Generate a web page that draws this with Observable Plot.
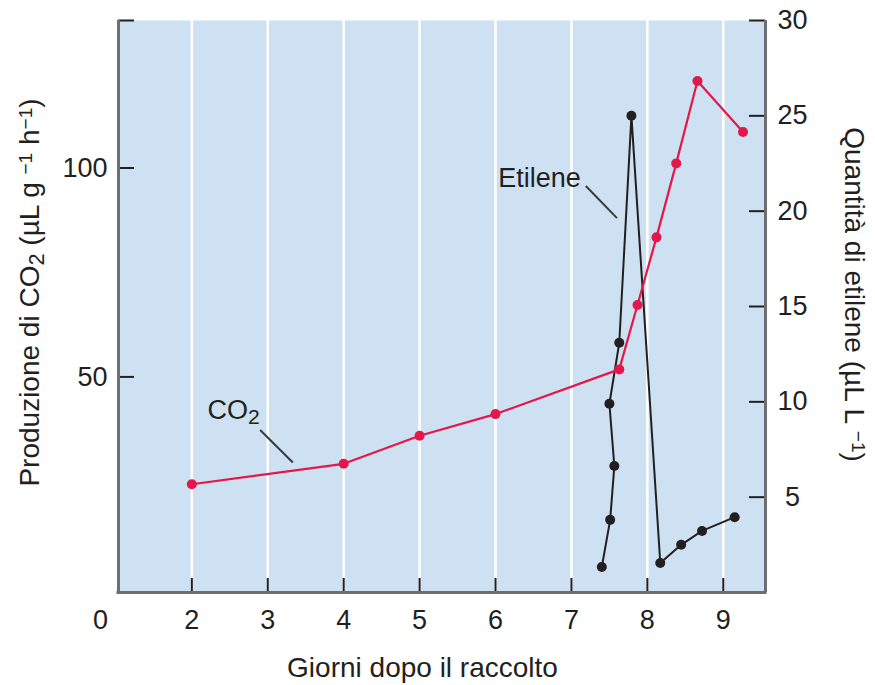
<!DOCTYPE html>
<html><head><meta charset="utf-8">
<script src="https://cdn.jsdelivr.net/npm/d3@7"></script>
<script src="https://cdn.jsdelivr.net/npm/@observablehq/plot@0.6"></script>
<style>body{margin:0;background:#fff}</style>
</head><body><div id="chart"></div>
<script>
// CO2 production (µL g-1 h-1) vs days after harvest
const co2Days = [2, 4, 5, 6, 7.63, 7.87, 8.12, 8.38, 8.66, 9.26];
const co2Values = [24.3, 29.2, 35.9, 41.1, 51.8, 67.2, 83.4, 101.1, 120.8, 108.6];
// Ethylene amount (µL L-1) vs days after harvest
const ethDays = [7.40, 7.51, 7.565, 7.50, 7.63, 7.79, 8.17, 8.445, 8.72, 9.15];
const ethValues = [1.34, 3.81, 6.63, 9.90, 13.1, 25.0, 1.55, 2.50, 3.23, 3.95];
// ticks
const xTicks = [2, 3, 4, 5, 6, 7, 8, 9];
const xBreakLabel = ["0"];
const leftTicks = [50, 100];
const rightTicks = [5, 10, 15, 20, 25, 30];
// domains
const xDomain = [1.034, 9.556];
const co2Domain = [-1.6, 135.3];
const ethDomain = [0, 30];
// texts
const xTitle = "Giorni dopo il raccolto";
const leftTitle = "Produzione di CO₂ (µL g ⁻¹ h⁻¹)";
const rightTitle = "Quantità di etilene (µL L ⁻¹)";
const annotLabels = ["CO₂", "Etilene"];
const annotX = [2.55, 6.58];
const annotY = [42.1, 97.6];
const leaderX1 = [2.90, 7.19], leaderY1 = [37.3, 95.7];
const leaderX2 = [3.33, 7.60], leaderY2 = [29.5, 88.0];

const toCo2 = e => co2Domain[0] + (e - ethDomain[0]) * (co2Domain[1] - co2Domain[0]) / (ethDomain[1] - ethDomain[0]);
const co2Data = co2Days.map((d, i) => ({day: d, v: co2Values[i]}));
const ethData = ethDays.map((d, i) => ({day: d, v: toCo2(ethValues[i])}));
const annots = annotLabels.map((t, i) => ({t, x: annotX[i], y: annotY[i]}));
const leaders = leaderX1.map((x, i) => ({x1: x, y1: leaderY1[i], x2: leaderX2[i], y2: leaderY2[i]}));

const W = 875, H = 685, mL = 118, mR = 110, mT = 20, mB = 93;
const plotW = W - mL - mR, plotH = H - mT - mB;
const ink = "#231f20", red = "#e4174b", axisGray = "#6d6e71";
const T = {fill: ink, textAnchor: "middle", lineAnchor: "middle"};

const chart = Plot.plot({
  width: W, height: H,
  marginLeft: mL, marginRight: mR, marginTop: mT, marginBottom: mB,
  style: {fontFamily: "'Liberation Sans', Arial, sans-serif", fontSize: "27px", color: ink, background: "transparent", overflow: "visible"},
  x: {domain: xDomain, axis: null},
  y: {domain: co2Domain, axis: null},
  marks: [
    Plot.frame({fill: "#cde1f3", stroke: null}),
    Plot.ruleX(xTicks, {stroke: "white", strokeWidth: 2.5}),
    Plot.ruleX(xTicks, {stroke: ink, strokeWidth: 2, insetTop: plotH - 14}),
    Plot.ruleY([...leftTicks, co2Domain[1]], {stroke: ink, strokeWidth: 2, insetRight: plotW - 16}),
    Plot.ruleY(rightTicks.map(toCo2), {stroke: ink, strokeWidth: 2, insetLeft: plotW - 16}),
    Plot.ruleX([xDomain[0], xDomain[1]], {stroke: axisGray, strokeWidth: 3}),
    Plot.ruleY([co2Domain[0]], {stroke: axisGray, strokeWidth: 3, insetLeft: -1.5, insetRight: -1.5}),
    // series
    Plot.line(ethData, {x: "day", y: "v", stroke: ink, strokeWidth: 2}),
    Plot.dot(ethData, {x: "day", y: "v", r: 5, fill: ink}),
    Plot.line(co2Data, {x: "day", y: "v", stroke: red, strokeWidth: 2.2}),
    Plot.dot(co2Data, {x: "day", y: "v", r: 5, fill: red}),
    // annotations
    Plot.link(leaders, {x1: "x1", y1: "y1", x2: "x2", y2: "y2", stroke: "#3a3a3a", strokeWidth: 2}),
    Plot.text(annots, {x: "x", y: "y", text: "t", ...T}),
    // tick labels
    Plot.text(xTicks, {x: d => d, text: d => String(d), frameAnchor: "bottom", dy: 28, ...T}),
    Plot.text(xBreakLabel, {text: d => d, frameAnchor: "bottom-left", dx: -18, dy: 28, ...T}),
    Plot.text(leftTicks, {y: d => d, text: d => String(d), frameAnchor: "left", dx: -11, ...T, textAnchor: "end"}),
    Plot.text(rightTicks, {y: d => toCo2(d), text: d => String(d), frameAnchor: "right", dx: 27, ...T}),
    // titles
    Plot.text([xTitle], {text: d => d, frameAnchor: "bottom", dx: -19.5, dy: 76, fontSize: 28, ...T}),
    Plot.text([leftTitle], {text: d => d, frameAnchor: "left", dx: -88, dy: -14, rotate: -90, fontSize: 28, ...T}),
    Plot.text([rightTitle], {text: d => d, frameAnchor: "right", dx: 88, dy: -12, rotate: 90, fontSize: 28, ...T})
  ]
});

// render sub/superscripts as real shifted tspans
const svgNS = "http://www.w3.org/2000/svg";
d3.select(chart).selectAll("text").each(function() {
  const s = this.textContent;
  if (!/₂|⁻¹/.test(s)) return;
  this.textContent = "";
  s.split(/(₂|⁻¹)/).forEach(part => {
    if (!part) return;
    const t = document.createElementNS(svgNS, "tspan");
    if (part === "₂") {
      t.textContent = "2";
      t.setAttribute("baseline-shift", "-22%");
      t.setAttribute("font-size", "78%");
    } else if (part === "⁻¹") {
      t.textContent = "−1";
      t.setAttribute("baseline-shift", "38%");
      t.setAttribute("font-size", "68%");
    } else {
      t.textContent = part;
    }
    this.appendChild(t);
  });
});
document.getElementById("chart").appendChild(chart);
</script>
</body></html>
